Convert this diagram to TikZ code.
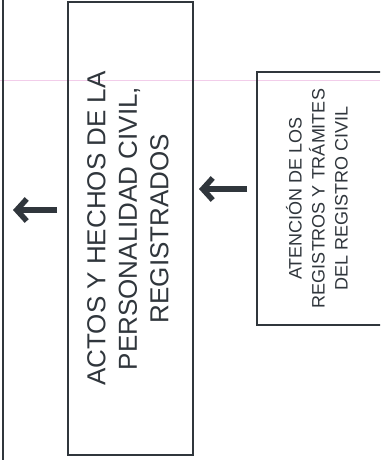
\documentclass[tikz,border=0pt]{standalone}
\usepackage{fontspec}
\setmainfont{Liberation Sans}
\usetikzlibrary{arrows.meta,calc}
\definecolor{ink}{HTML}{30363C}
\definecolor{ruling}{HTML}{F2CDEA}
\tikzset{
  box/.style={draw=ink, line width=2pt, inner sep=0pt, align=center, text=ink},
  arr/.style={draw=ink, line width=5.5pt, -{Straight Barb[length=10pt,width=22pt]}},
}
\begin{document}
\begin{tikzpicture}[x=1pt,y=-1pt]
\clip (0,0) rectangle (380,460);
\fill[white] (0,0) rectangle (380,460);
\draw[ruling, line width=0.6pt] (0,80) -- (380,80);
\node[box, minimum width=126pt, minimum height=470pt] (prev) at (-60,230) {};
\node[box, minimum width=125pt, minimum height=453pt] (mid) at (130.5,228.5)
  {\rotatebox{90}{\fontsize{26}{31.5}\selectfont\begin{tabular}{@{}c@{}}ACTOS Y HECHOS DE LA\\PERSONALIDAD CIVIL,\\REGISTRADOS\end{tabular}}};
\node[box, minimum width=126pt, minimum height=253pt] (rb) at (320,198.5)
  {\rotatebox{90}{\fontsize{18}{23}\selectfont\begin{tabular}{@{}c@{}}ATENCIÓN DE LOS\\REGISTROS Y TRÁMITES\\DEL REGISTRO CIVIL\end{tabular}}};
\coordinate (a1) at ($(mid.west)+(-10,-18.5)$);
\draw[arr] (a1) -- ($(prev.east |- a1)+(9,0)$);
\coordinate (a2) at ($(rb.west)+(-9,-9.5)$);
\draw[arr] (a2) -- ($(mid.east |- a2)+(5,0)$);
\end{tikzpicture}
\end{document}
